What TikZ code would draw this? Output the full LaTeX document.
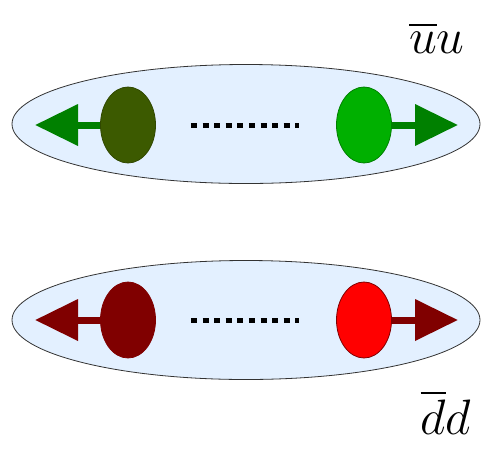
\documentclass[tikz,border=0pt]{standalone}
\usepackage{amsmath}
\usetikzlibrary{arrows.meta, shapes.geometric}
\definecolor{mesonfill}{HTML}{E3F0FF}
\definecolor{qdarkgreen}{HTML}{3C5A00}
\definecolor{qgreen}{HTML}{00B000}
\definecolor{qarrowgreen}{HTML}{008000}
\definecolor{qdarkred}{HTML}{800000}
\definecolor{qred}{HTML}{FF0000}
\tikzset{
  meson/.style={ellipse, draw=black!80, thin, fill=mesonfill,
                minimum width=234pt, minimum height=59.5pt, inner sep=0pt},
  quark/.style={ellipse, thin, minimum width=27.5pt, minimum height=38pt, inner sep=0pt},
  push/.style={-{Triangle[length=21.5pt, width=20pt]}, line width=3.5pt},
  qstring/.style={line width=2.5pt, dash pattern=on 3pt off 2.8pt,
                  shorten <=17.5pt, shorten >=18.5pt},
  flav/.style={font=\fontsize{39}{42}\selectfont, inner sep=0pt},
}
\begin{document}
\begin{tikzpicture}[x=0.5pt, y=-0.5pt]
  \useasboundingbox (0,0) rectangle (482,451);
  % u ubar pair
  \node[meson] (mu) at (246,124) {};
  \node[quark, draw=qdarkgreen!80!black, fill=qdarkgreen] (ubar) at (128,125) {};
  \node[quark, draw=qarrowgreen, fill=qgreen] (u) at (364,125) {};
  \coordinate (lu) at (35,125);
  \coordinate (ru) at (458,125);
  \draw[push, qarrowgreen] (ubar.west) -- (lu);
  \draw[push, qarrowgreen] (u.east) -- (ru);
  \draw[qstring] (ubar) -- (u);
  \node[flav] (labu) at (437,38) {$\overline{u}u$};

  % d dbar pair
  \node[meson] (md) at (246,320) {};
  \node[quark, draw=qdarkred, fill=qdarkred] (dbar) at (128,320) {};
  \node[quark, draw=qdarkred, fill=qred] (d) at (364,320) {};
  \coordinate (ld) at (35,320);
  \coordinate (rd) at (458,320);
  \draw[push, qdarkred] (dbar.west) -- (ld);
  \draw[push, qdarkred] (d.east) -- (rd);
  \draw[qstring] (dbar) -- (d);
  \node[flav] (labd) at (446,412) {$\overline{d}d$};
\end{tikzpicture}
\end{document}
